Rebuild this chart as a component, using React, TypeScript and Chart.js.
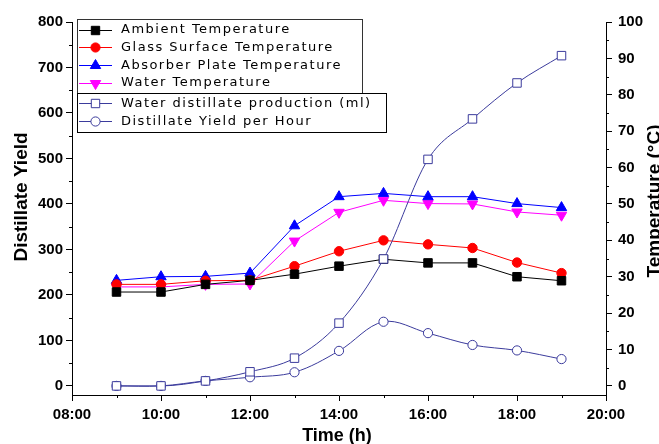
import React, { useEffect, useRef } from 'react';
import { Chart, registerables } from 'chart.js';

Chart.register(...registerables);

// ---- data ----
const hours = [9, 10, 11, 12, 13, 14, 15, 16, 17, 18, 19];
const ambientTemp = [25.8, 25.8, 27.9, 29, 30.7, 32.9, 34.8, 33.8, 33.8, 30, 28.9];
const glassTemp = [27.9, 27.9, 28.9, 29, 32.9, 37, 40, 38.9, 37.9, 33.9, 31];
const absorberTemp = [29, 30, 30.1, 31, 44, 52, 52.9, 52, 52, 50.1, 49];
const waterTemp = [27.2, 27.2, 27.9, 28, 39.8, 47.7, 51, 50.1, 50, 47.8, 46.9];
const distillateProduction = [0, 0, 11, 31, 61, 138, 279, 498, 587, 666, 726];
const yieldPerHour = [0, 0, 11, 19, 30, 77, 141, 116, 90, 78, 59];

const xTicks = [8, 10, 12, 14, 16, 18, 20];
const yieldTicks = [0, 100, 200, 300, 400, 500, 600, 700, 800];
const tempTicks = [0, 10, 20, 30, 40, 50, 60, 70, 80, 90, 100];

const legendTemps = ['Ambient Temperature', 'Glass Surface Temperature', 'Absorber Plate Temperature', 'Water Temperature'];
const legendYield = ['Water distillate production (ml)', 'Distillate Yield per Hour'];

const NAVY = '#3b3b9c';
const FONT = '"Liberation Sans", Arial, sans-serif';

const pts = (vals: number[]) => hours.map((h, i) => ({ x: h, y: vals[i] }));

function drawMarker(ctx: CanvasRenderingContext2D, type: string, x: number, y: number, fill: string, stroke: string) {
  ctx.save();
  ctx.fillStyle = fill;
  ctx.strokeStyle = stroke;
  ctx.lineWidth = 1;
  ctx.beginPath();
  if (type === 'rect') {
    ctx.rect(x - 4.2, y - 4.2, 8.4, 8.4);
  } else if (type === 'circle') {
    ctx.arc(x, y, 4.6, 0, Math.PI * 2);
  } else if (type === 'tri') {
    const r = 6;
    for (let k = 0; k < 3; k++) {
      const a = (k * 2 * Math.PI) / 3;
      const px = x + Math.sin(a) * r, py = y - Math.cos(a) * r;
      if (k === 0) ctx.moveTo(px, py); else ctx.lineTo(px, py);
    }
    ctx.closePath();
  } else if (type === 'tridown') {
    const r = 6;
    for (let k = 0; k < 3; k++) {
      const a = (k * 2 * Math.PI) / 3;
      const px = x + Math.sin(a) * r, py = y + Math.cos(a) * r;
      if (k === 0) ctx.moveTo(px, py); else ctx.lineTo(px, py);
    }
    ctx.closePath();
  }
  ctx.fill();
  ctx.stroke();
  ctx.restore();
}

const decorPlugin = {
  id: 'decor',
  afterDraw(chart: any) {
    const ctx: CanvasRenderingContext2D = chart.ctx;
    const { x, y, y1 } = chart.scales;
    const area = chart.chartArea;
    ctx.save();
    // minor ticks
    ctx.strokeStyle = '#000';
    ctx.lineWidth = 1;
    ctx.beginPath();
    for (let h = 9; h <= 19; h += 2) {
      const px = Math.round(x.getPixelForValue(h)) + 0.5;
      ctx.moveTo(px, area.bottom);
      ctx.lineTo(px, area.bottom + 3);
    }
    for (let v = 50; v <= 750; v += 100) {
      const py = Math.round(y.getPixelForValue(v)) + 0.5;
      ctx.moveTo(area.left - 3, py);
      ctx.lineTo(area.left, py);
    }
    for (let v = 5; v <= 95; v += 10) {
      const py = Math.round(y1.getPixelForValue(v)) + 0.5;
      ctx.moveTo(area.right, py);
      ctx.lineTo(area.right + 3, py);
    }
    ctx.stroke();

    // axis titles
    ctx.fillStyle = '#000';
    ctx.font = `bold 19px ${FONT}`;
    ctx.textAlign = 'center';
    ctx.textBaseline = 'alphabetic';
    ctx.save();
    ctx.translate(27, 197);
    ctx.rotate(-Math.PI / 2);
    ctx.fillText('Distillate Yield', 0, 0);
    ctx.restore();
    ctx.save();
    ctx.translate(660, 201);
    ctx.rotate(-Math.PI / 2);
    ctx.fillText('Temperature (°C)', 0, 0);
    ctx.restore();
    ctx.font = `bold 18px ${FONT}`;
    ctx.fillText('Time (h)', 337, 441);

    // legend
    const rows1 = [29.5, 47, 65, 82.5];
    const rows2 = [103, 121];
    ctx.fillStyle = '#fff';
    ctx.fillRect(77.5, 19.5, 285, 74);
    ctx.strokeStyle = '#333';
    ctx.strokeRect(77.5, 19.5, 285, 74);
    ctx.fillStyle = '#fff';
    ctx.fillRect(77.5, 93.5, 309, 39);
    ctx.strokeStyle = '#000';
    ctx.strokeRect(77.5, 93.5, 309, 39);

    const tempStyles = [
      { c: '#000000', m: 'rect' },
      { c: '#ff0000', m: 'circle' },
      { c: '#0000ff', m: 'tri' },
      { c: '#ff00ff', m: 'tridown' },
    ];
    const yStyles = [{ m: 'rect' }, { m: 'circle' }];
    const drawRow = (ry: number, color: string, m: string, fill: string, label: string) => {
      ctx.strokeStyle = color;
      ctx.lineWidth = 1;
      ctx.beginPath();
      ctx.moveTo(79, Math.round(ry) + 0.5);
      ctx.lineTo(112, Math.round(ry) + 0.5);
      ctx.stroke();
      drawMarker(ctx, m, 95.5, Math.round(ry) + 0.5, fill, color);
      ctx.fillStyle = '#000';
      ctx.font = '13px "DejaVu Sans", sans-serif';
      (ctx as any).letterSpacing = '1.5px';
      ctx.textAlign = 'left';
      ctx.textBaseline = 'middle';
      ctx.fillText(label, 121, ry + 0.5);
      (ctx as any).letterSpacing = '0px';
    };
    legendTemps.forEach((t, i) => drawRow(rows1[i], tempStyles[i].c, tempStyles[i].m, tempStyles[i].c, t));
    legendYield.forEach((t, i) => drawRow(rows2[i], NAVY, yStyles[i].m, '#fff', t));
    ctx.restore();
  },
};

export default function App() {
  const ref = useRef<HTMLCanvasElement>(null);
  useEffect(() => {
    const tempDs = (label: string, vals: number[], color: string, style: string, rot = 0) => ({
      label,
      data: pts(vals),
      yAxisID: 'y1',
      borderColor: color,
      backgroundColor: color,
      borderWidth: 1,
      pointStyle: style,
      pointRotation: rot,
      pointRadius: style === 'circle' ? 4.7 : 6,
      pointBorderColor: color,
      pointBackgroundColor: color,
      pointBorderWidth: 1,
      tension: 0,
      order: 2,
    });
    const chart = new Chart(ref.current as HTMLCanvasElement, {
      type: 'line',
      data: {
        datasets: [
          tempDs('Ambient Temperature', ambientTemp, '#000000', 'rect'),
          tempDs('Glass Surface Temperature', glassTemp, '#ff0000', 'circle'),
          tempDs('Absorber Plate Temperature', absorberTemp, '#0000ff', 'triangle'),
          tempDs('Water Temperature', waterTemp, '#ff00ff', 'triangle', 180),
          {
            label: 'Water distillate production (ml)',
            data: pts(distillateProduction),
            yAxisID: 'y',
            borderColor: NAVY,
            backgroundColor: '#fff',
            borderWidth: 1,
            pointStyle: 'rect',
            pointRadius: 6,
            pointBorderColor: NAVY,
            pointBackgroundColor: '#fff',
            pointBorderWidth: 1,
            cubicInterpolationMode: 'monotone',
            order: 1,
          } as any,
          {
            label: 'Distillate Yield per Hour',
            data: pts(yieldPerHour),
            yAxisID: 'y',
            borderColor: NAVY,
            backgroundColor: '#fff',
            borderWidth: 1,
            pointStyle: 'circle',
            pointRadius: 4.6,
            pointBorderColor: NAVY,
            pointBackgroundColor: '#fff',
            pointBorderWidth: 1,
            tension: 0.35,
            order: 1,
          } as any,
        ],
      },
      options: {
        responsive: false,
        animation: false,
        events: [],
        layout: { padding: { top: 22, left: 0, right: 0, bottom: 0 } },
        plugins: { legend: { display: false }, tooltip: { enabled: false } },
        scales: {
          x: {
            type: 'linear',
            min: 8,
            max: 20,
            afterBuildTicks: (s: any) => { s.ticks = xTicks.map((v) => ({ value: v })); },
            afterFit: (s: any) => { s.height = 49; },
            ticks: {
              autoSkip: false,
              maxRotation: 0,
              padding: 5,
              color: '#000',
              font: { family: FONT, size: 15, weight: 'bold' },
              callback: (v: any) => `${String(v).padStart(2, '0')}:00`,
            },
            grid: { display: true, drawOnChartArea: false, tickLength: 6, tickColor: '#000', tickWidth: 1 },
            border: { display: true, color: '#000', width: 1 },
          },
          y: {
            type: 'linear',
            position: 'left',
            min: -20,
            max: 800,
            afterBuildTicks: (s: any) => { s.ticks = yieldTicks.map((v) => ({ value: v })); },
            afterFit: (s: any) => { s.width = 72; },
            ticks: {
              padding: 3,
              color: '#000',
              font: { family: FONT, size: 15, weight: 'bold' },
            },
            grid: { display: true, drawOnChartArea: false, tickLength: 6, tickColor: '#000', tickWidth: 1 },
            border: { display: true, color: '#000', width: 1 },
          },
          y1: {
            type: 'linear',
            position: 'right',
            min: -2.5,
            max: 100,
            afterBuildTicks: (s: any) => { s.ticks = tempTicks.map((v) => ({ value: v })); },
            afterFit: (s: any) => { s.width = 53; },
            ticks: {
              padding: 6,
              color: '#000',
              font: { family: FONT, size: 15, weight: 'bold' },
            },
            grid: { display: true, drawOnChartArea: false, tickLength: 6, tickColor: '#000', tickWidth: 1 },
            border: { display: true, color: '#000', width: 1 },
          },
        },
      },
      plugins: [decorPlugin],
    } as any);
    return () => chart.destroy();
  }, []);
  return (
    <div style={{ position: 'fixed', left: 0, top: 0, width: 659, height: 444, background: '#fff' }}>
      <canvas ref={ref} width={659} height={444} style={{ display: 'block' }} />
    </div>
  );
}
